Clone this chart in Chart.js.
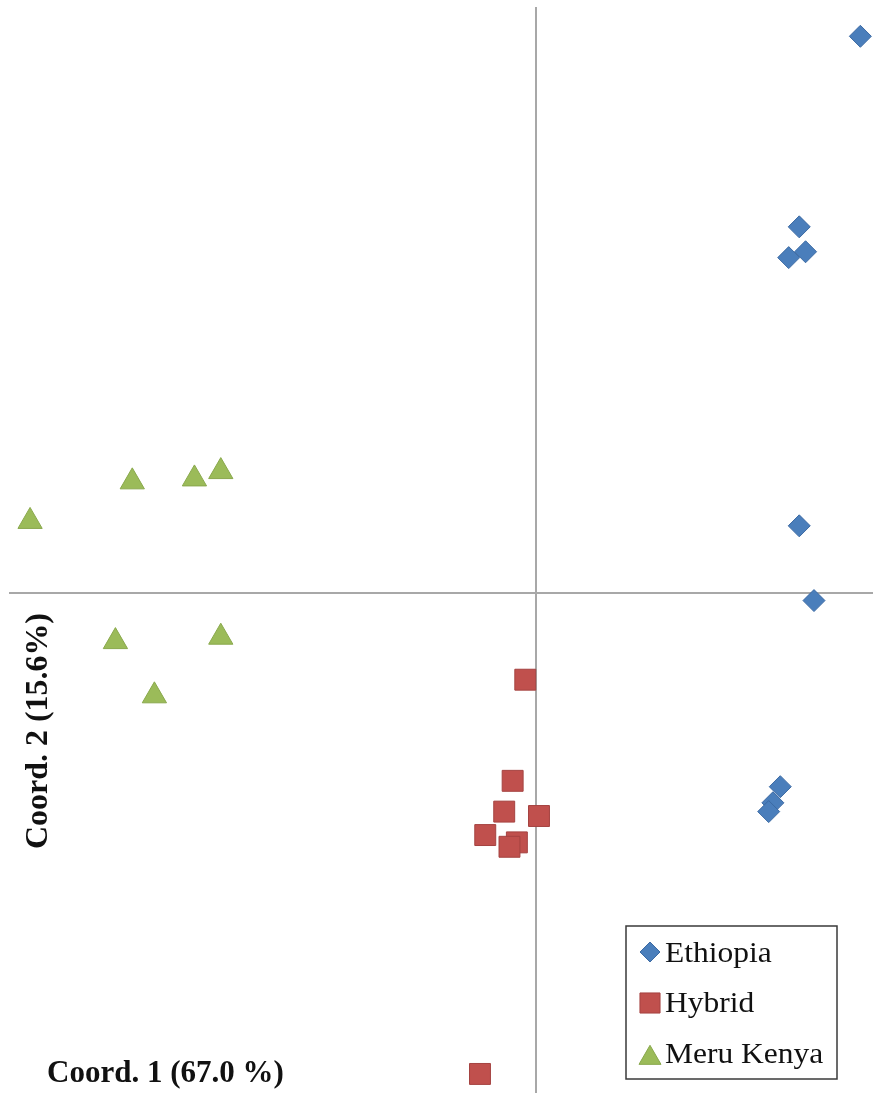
<!DOCTYPE html>
<html>
<head>
<meta charset="utf-8">
<title>PCoA – Coord. 1 vs Coord. 2</title>
<script src="https://cdn.jsdelivr.net/npm/chart.js@4.4.1/dist/chart.umd.min.js"></script>
<style>
  html, body { margin: 0; padding: 0; background: #ffffff; }
  #wrap { width: 873px; height: 1093px; position: relative; }
  canvas { display: block; }
</style>
</head>
<body>
<div id="wrap"><canvas id="pcoa" width="873" height="1093"></canvas></div>
<script>
// Group names, in legend order
const categories = ['Ethiopia', 'Hybrid', 'Meru Kenya'];

// Principal coordinate scores per group
const ethiopiaX = [0.308, 0.250, 0.256, 0.240, 0.250, 0.264, 0.232, 0.225, 0.221];
const ethiopiaY = [0.380, 0.250, 0.233, 0.229, 0.046, -0.005, -0.132, -0.143, -0.149];

const hybridX = [-0.010, -0.022, -0.030, 0.003, -0.048, -0.018, -0.025, -0.053];
const hybridY = [-0.059, -0.128, -0.149, -0.152, -0.165, -0.170, -0.173, -0.328];

const meruX = [-0.383, -0.324, -0.299, -0.480, -0.399, -0.299, -0.362];
const meruY = [0.076, 0.078, 0.083, 0.049, -0.033, -0.030, -0.070];

// Axis titles (variance explained)
const xTitle = 'Coord. 1 (67.0 %)';
const yTitle = 'Coord. 2 (15.6%)';

function toPoints(xs, ys) {
  return xs.map((x, i) => ({ x: x, y: ys[i] }));
}

const seriesStyle = [
  { pointStyle: 'rectRot', radius: 11, fill: '#4a7ebb', stroke: '#3c6aa3', legendRadius: 10 },
  { pointStyle: 'rect', radius: 14.8, fill: '#c0504d', stroke: '#a54341', legendRadius: 14.2 },
  { pointStyle: 'triangle', radius: 14, fill: '#9bbb59', stroke: '#89a84c', legendRadius: 12.7 }
];

const seriesData = [
  toPoints(ethiopiaX, ethiopiaY),
  toPoints(hybridX, hybridY),
  toPoints(meruX, meruY)
];

const datasets = categories.map((name, i) => ({
  label: name,
  data: seriesData[i],
  pointStyle: seriesStyle[i].pointStyle,
  pointRadius: seriesStyle[i].radius,
  pointHoverRadius: seriesStyle[i].radius,
  backgroundColor: seriesStyle[i].fill,
  borderColor: seriesStyle[i].stroke,
  pointBorderWidth: 1,
  clip: false
}));

// Only the zero line of each axis is drawn
function zeroOnly(scale) {
  scale.ticks = [{ value: 0 }];
}

const axisCommon = {
  type: 'linear',
  bounds: 'data',
  afterBuildTicks: zeroOnly,
  ticks: { display: false },
  border: { display: false },
  grid: { color: '#a8a8a8', lineWidth: 2, drawTicks: false }
};

// Axis titles and the boxed legend, drawn inside the plot area
const overlayPlugin = {
  id: 'overlay',
  afterDraw(chart) {
    const ctx = chart.ctx;
    ctx.save();

    // vertical axis title
    ctx.fillStyle = '#111111';
    ctx.font = 'bold 31px "Liberation Serif", "Times New Roman", serif';
    ctx.textBaseline = 'alphabetic';
    ctx.textAlign = 'center';
    ctx.save();
    ctx.translate(47, 731);
    ctx.rotate(-Math.PI / 2);
    ctx.scale(1.03, 1);
    ctx.fillText(yTitle, 0, 0);
    ctx.restore();

    // horizontal axis title
    ctx.textAlign = 'left';
    ctx.fillText(xTitle, 47, 1082);

    // legend box
    const bx = 626, by = 926, bw = 211, bh = 153;
    ctx.fillStyle = '#ffffff';
    ctx.fillRect(bx, by, bw, bh);
    ctx.strokeStyle = '#3a3a3a';
    ctx.lineWidth = 1.5;
    ctx.strokeRect(bx, by, bw, bh);

    const rowMarkerY = [952, 1003, 1058];
    const rowTextY = [962, 1012, 1063];
    const draw = (Chart.helpers && Chart.helpers.drawPoint) ? Chart.helpers.drawPoint : null;
    categories.forEach((name, i) => {
      const st = seriesStyle[i];
      ctx.fillStyle = st.fill;
      ctx.strokeStyle = st.stroke;
      ctx.lineWidth = 1;
      if (draw) {
        draw(ctx, { pointStyle: st.pointStyle, radius: st.legendRadius, rotation: 0, borderWidth: 1 }, 650, rowMarkerY[i]);
      }
      ctx.fillStyle = '#111111';
      ctx.font = '30px "Liberation Serif", "Times New Roman", serif';
      ctx.textAlign = 'left';
      ctx.save();
      ctx.translate(665, rowTextY[i]);
      ctx.scale(1.05, 1);
      ctx.fillText(name, 0, 0);
      ctx.restore();
    });

    ctx.restore();
  }
};

new Chart(document.getElementById('pcoa'), {
  type: 'scatter',
  data: { datasets: datasets },
  options: {
    responsive: false,
    devicePixelRatio: 1,
    animation: false,
    layout: { autoPadding: false, padding: { left: 9, top: 7, right: 0, bottom: 0 } },
    plugins: {
      legend: { display: false },
      tooltip: { enabled: false }
    },
    scales: {
      x: Object.assign({}, axisCommon, { min: -0.5, max: 0.32 }),
      y: Object.assign({}, axisCommon, { min: -0.341, max: 0.4 })
    }
  },
  plugins: [overlayPlugin]
});
</script>
</body>
</html>
